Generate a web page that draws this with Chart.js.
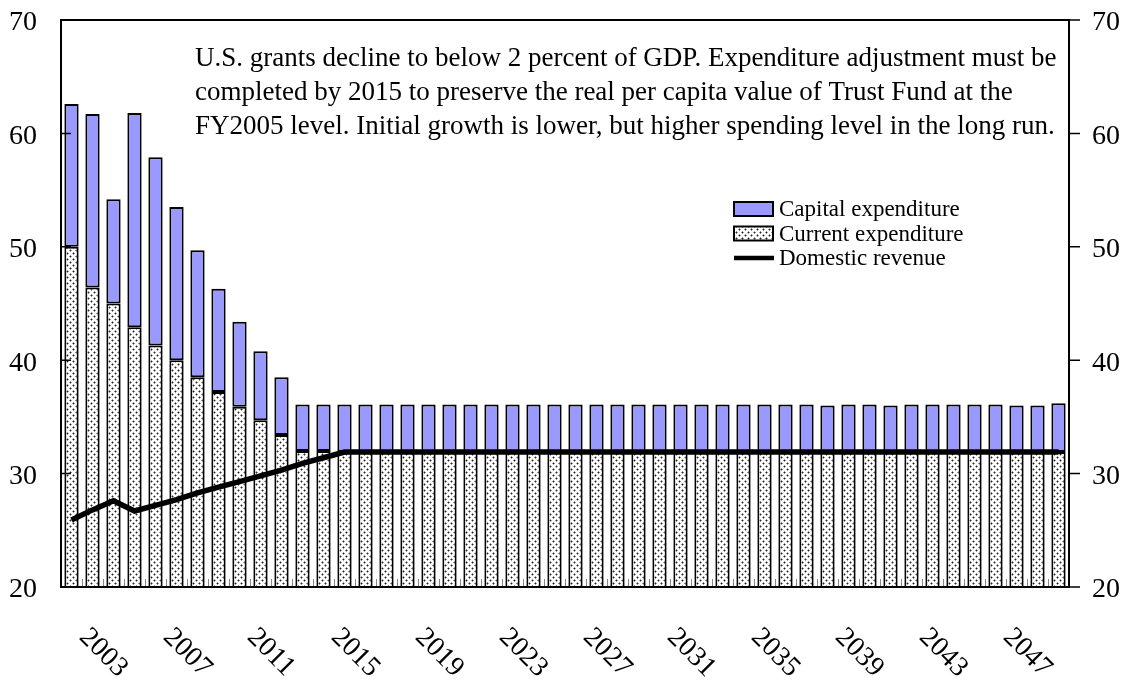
<!DOCTYPE html>
<html>
<head>
<meta charset="utf-8">
<script src="https://cdn.jsdelivr.net/npm/chart.js@4.4.1/dist/chart.umd.min.js"></script>
<style>
  html, body { margin: 0; padding: 0; background: #fff; }
  #wrap { width: 1128px; height: 681px; }
</style>
</head>
<body>
<div id="wrap"><canvas id="chart" width="1128" height="681"></canvas></div>
<script>
// data (percent of GDP)
const years = [2003, 2004, 2005, 2006, 2007, 2008, 2009, 2010, 2011, 2012, 2013, 2014,
  2015, 2016, 2017, 2018, 2019, 2020, 2021, 2022, 2023, 2024, 2025, 2026,
  2027, 2028, 2029, 2030, 2031, 2032, 2033, 2034, 2035, 2036, 2037, 2038,
  2039, 2040, 2041, 2042, 2043, 2044, 2045, 2046, 2047, 2048, 2049, 2050];
const tickYears = [2003, 2007, 2011, 2015, 2019, 2023, 2027, 2031, 2035, 2039, 2043, 2047];
const yTicks = [20, 30, 40, 50, 60, 70];

const currentExp = [50.0, 46.4, 45.0, 42.9, 41.3, 40.0, 38.5, 37.2, 35.9, 34.7, 33.4, 32.0,
  32.0, 31.9, 31.9, 31.9, 31.9, 31.9, 31.9, 31.9, 31.9, 31.9, 31.9, 31.9,
  31.9, 31.9, 31.9, 31.9, 31.9, 31.9, 31.9, 31.9, 31.9, 31.9, 31.9, 31.9,
  31.9, 31.9, 31.9, 31.9, 31.9, 31.9, 31.9, 31.9, 31.9, 31.9, 31.9, 31.9];
const capitalExp = [12.6, 15.3, 9.2, 18.9, 16.6, 13.5, 11.2, 9.1, 7.5, 6.1, 5.1, 4.1,
  4.1, 4.2, 4.2, 4.2, 4.2, 4.2, 4.2, 4.2, 4.2, 4.2, 4.2, 4.2,
  4.2, 4.2, 4.2, 4.2, 4.2, 4.2, 4.2, 4.2, 4.2, 4.2, 4.2, 4.2,
  4.1, 4.2, 4.2, 4.1, 4.2, 4.2, 4.2, 4.2, 4.2, 4.1, 4.1, 4.3];
const domesticRev = [25.9, 26.8, 27.6, 26.7, 27.2, 27.7, 28.3, 28.8, 29.3, 29.8, 30.3, 30.9,
  31.4, 31.9, 31.9, 31.9, 31.9, 31.9, 31.9, 31.9, 31.9, 31.9, 31.9, 31.9,
  31.9, 31.9, 31.9, 31.9, 31.9, 31.9, 31.9, 31.9, 31.9, 31.9, 31.9, 31.9,
  31.9, 31.9, 31.9, 31.9, 31.9, 31.9, 31.9, 31.9, 31.9, 31.9, 31.9, 31.9];

const noteLines = [
  'U.S. grants decline to below 2 percent of GDP. Expenditure adjustment must be',
  'completed by 2015 to preserve the real per capita value of Trust Fund at the',
  'FY2005 level. Initial growth is lower, but higher spending level in the long run.'
];

const SERIF = '"Liberation Serif", "Times New Roman", serif';
const capColor = '#9999ff';

// dotted fill for current expenditure
function dotPattern() {
  const c = document.createElement('canvas');
  c.width = 6; c.height = 6;
  const g = c.getContext('2d');
  g.fillStyle = '#fff';
  g.fillRect(0, 0, 6, 6);
  g.fillStyle = '#999';
  g.fillRect(0, 1, 3, 1); g.fillRect(1, 0, 1, 3);
  g.fillRect(3, 4, 3, 1); g.fillRect(4, 3, 1, 3);
  g.fillStyle = '#222';
  g.fillRect(1, 1, 1, 1);
  g.fillRect(4, 4, 1, 1);
  return g.createPattern(c, 'repeat');
}
const dots = dotPattern();

// axis box, tick marks, rotated year labels, note and legend
const decor = {
  id: 'decor',
  beforeDatasetsDraw(chart) {
    const { ctx, chartArea: a, scales: { x } } = chart;
    const band = x.getPixelForValue(1) - x.getPixelForValue(0);
    ctx.save();
    ctx.strokeStyle = '#888';
    ctx.lineWidth = 1;
    for (let i = 1; i < years.length; i++) {
      const px = Math.round(x.getPixelForValue(i) - band / 2) + 0.5;
      ctx.beginPath();
      ctx.moveTo(px, a.bottom);
      ctx.lineTo(px, a.bottom - 8);
      ctx.stroke();
    }
    ctx.restore();
  },
  afterDraw(chart) {
    const { ctx, chartArea: a, scales: { x, y } } = chart;
    ctx.save();
    ctx.strokeStyle = '#000';
    ctx.lineWidth = 2;
    ctx.strokeRect(a.left, a.top, a.right - a.left, a.bottom - a.top);
    ctx.lineWidth = 1.5;
    yTicks.forEach(v => {
      const py = y.getPixelForValue(v);
      ctx.beginPath();
      ctx.moveTo(a.left, py); ctx.lineTo(a.left + 10, py);
      ctx.moveTo(a.right, py); ctx.lineTo(a.right + 11, py);
      ctx.stroke();
    });

    // year labels, rotated clockwise
    ctx.fillStyle = '#000';
    ctx.font = '28px ' + SERIF;
    ctx.textAlign = 'left';
    ctx.textBaseline = 'middle';
    tickYears.forEach(yr => {
      const px = x.getPixelForValue(years.indexOf(yr));
      ctx.save();
      ctx.translate(px + 12, 633);
      ctx.rotate(Math.PI / 4);
      ctx.fillText(String(yr), 0, 0);
      ctx.restore();
    });

    // note
    ctx.font = '27px ' + SERIF;
    ctx.textBaseline = 'alphabetic';
    noteLines.forEach((t, i) => ctx.fillText(t, 195, 66 + i * 34));

    // legend
    const ds = chart.data.datasets;
    const rows = [ds[1], ds[0], ds[2]];
    ctx.font = '23px ' + SERIF;
    ctx.textBaseline = 'middle';
    rows.forEach((d, i) => {
      const cy = 209 + i * 24.5;
      if (d.type === 'line') {
        ctx.strokeStyle = '#000';
        ctx.lineWidth = 4.5;
        ctx.beginPath();
        ctx.moveTo(734, cy); ctx.lineTo(774, cy);
        ctx.stroke();
      } else {
        ctx.fillStyle = d.backgroundColor;
        ctx.fillRect(734, cy - 7, 39, 14);
        ctx.strokeStyle = '#000';
        ctx.lineWidth = 2;
        ctx.strokeRect(734, cy - 7, 39, 14);
      }
      ctx.fillStyle = '#000';
      ctx.fillText(d.label, 779, cy + 1);
    });
    ctx.restore();
  }
};

new Chart(document.getElementById('chart'), {
  data: {
    labels: years,
    datasets: [
      {
        type: 'bar',
        label: 'Current expenditure',
        data: currentExp,
        backgroundColor: dots,
        borderColor: '#000',
        borderWidth: 2,
        borderSkipped: false,
        stack: 'exp',
        order: 2,
        barPercentage: 0.68,
        categoryPercentage: 1
      },
      {
        type: 'bar',
        label: 'Capital expenditure',
        data: capitalExp,
        backgroundColor: capColor,
        borderColor: '#000',
        borderWidth: 2,
        borderSkipped: false,
        stack: 'exp',
        order: 2,
        barPercentage: 0.68,
        categoryPercentage: 1
      },
      {
        type: 'line',
        label: 'Domestic revenue',
        data: domesticRev,
        borderColor: '#000',
        borderWidth: 5.5,
        pointRadius: 0,
        tension: 0,
        fill: false,
        stack: 'rev',
        order: 1
      }
    ]
  },
  options: {
    responsive: false,
    animation: false,
    layout: { padding: { top: 20, left: 0, right: 0, bottom: 0 } },
    plugins: { legend: { display: false }, tooltip: { enabled: false } },
    scales: {
      x: {
        stacked: true,
        grid: { display: false },
        border: { display: false },
        ticks: { display: false },
        afterFit(s) { s.height = 94; s.paddingLeft = 0; s.paddingRight = 0; }
      },
      y: {
        stacked: true,
        position: 'left',
        min: 20, max: 70,
        grid: { display: false, drawTicks: false },
        border: { display: false },
        ticks: { stepSize: 10, padding: 24, labelOffset: 3, color: '#000', font: { family: SERIF, size: 28 } },
        afterFit(s) { s.width = 61; s.paddingTop = 0; s.paddingBottom = 0; }
      },
      y2: {
        position: 'right',
        min: 20, max: 70,
        grid: { display: false, drawTicks: false },
        border: { display: false },
        ticks: { stepSize: 10, padding: 23, labelOffset: 3, color: '#000', font: { family: SERIF, size: 28 } },
        afterFit(s) { s.width = 59; s.paddingTop = 0; s.paddingBottom = 0; }
      }
    }
  },
  plugins: [decor]
});
</script>
</body>
</html>
